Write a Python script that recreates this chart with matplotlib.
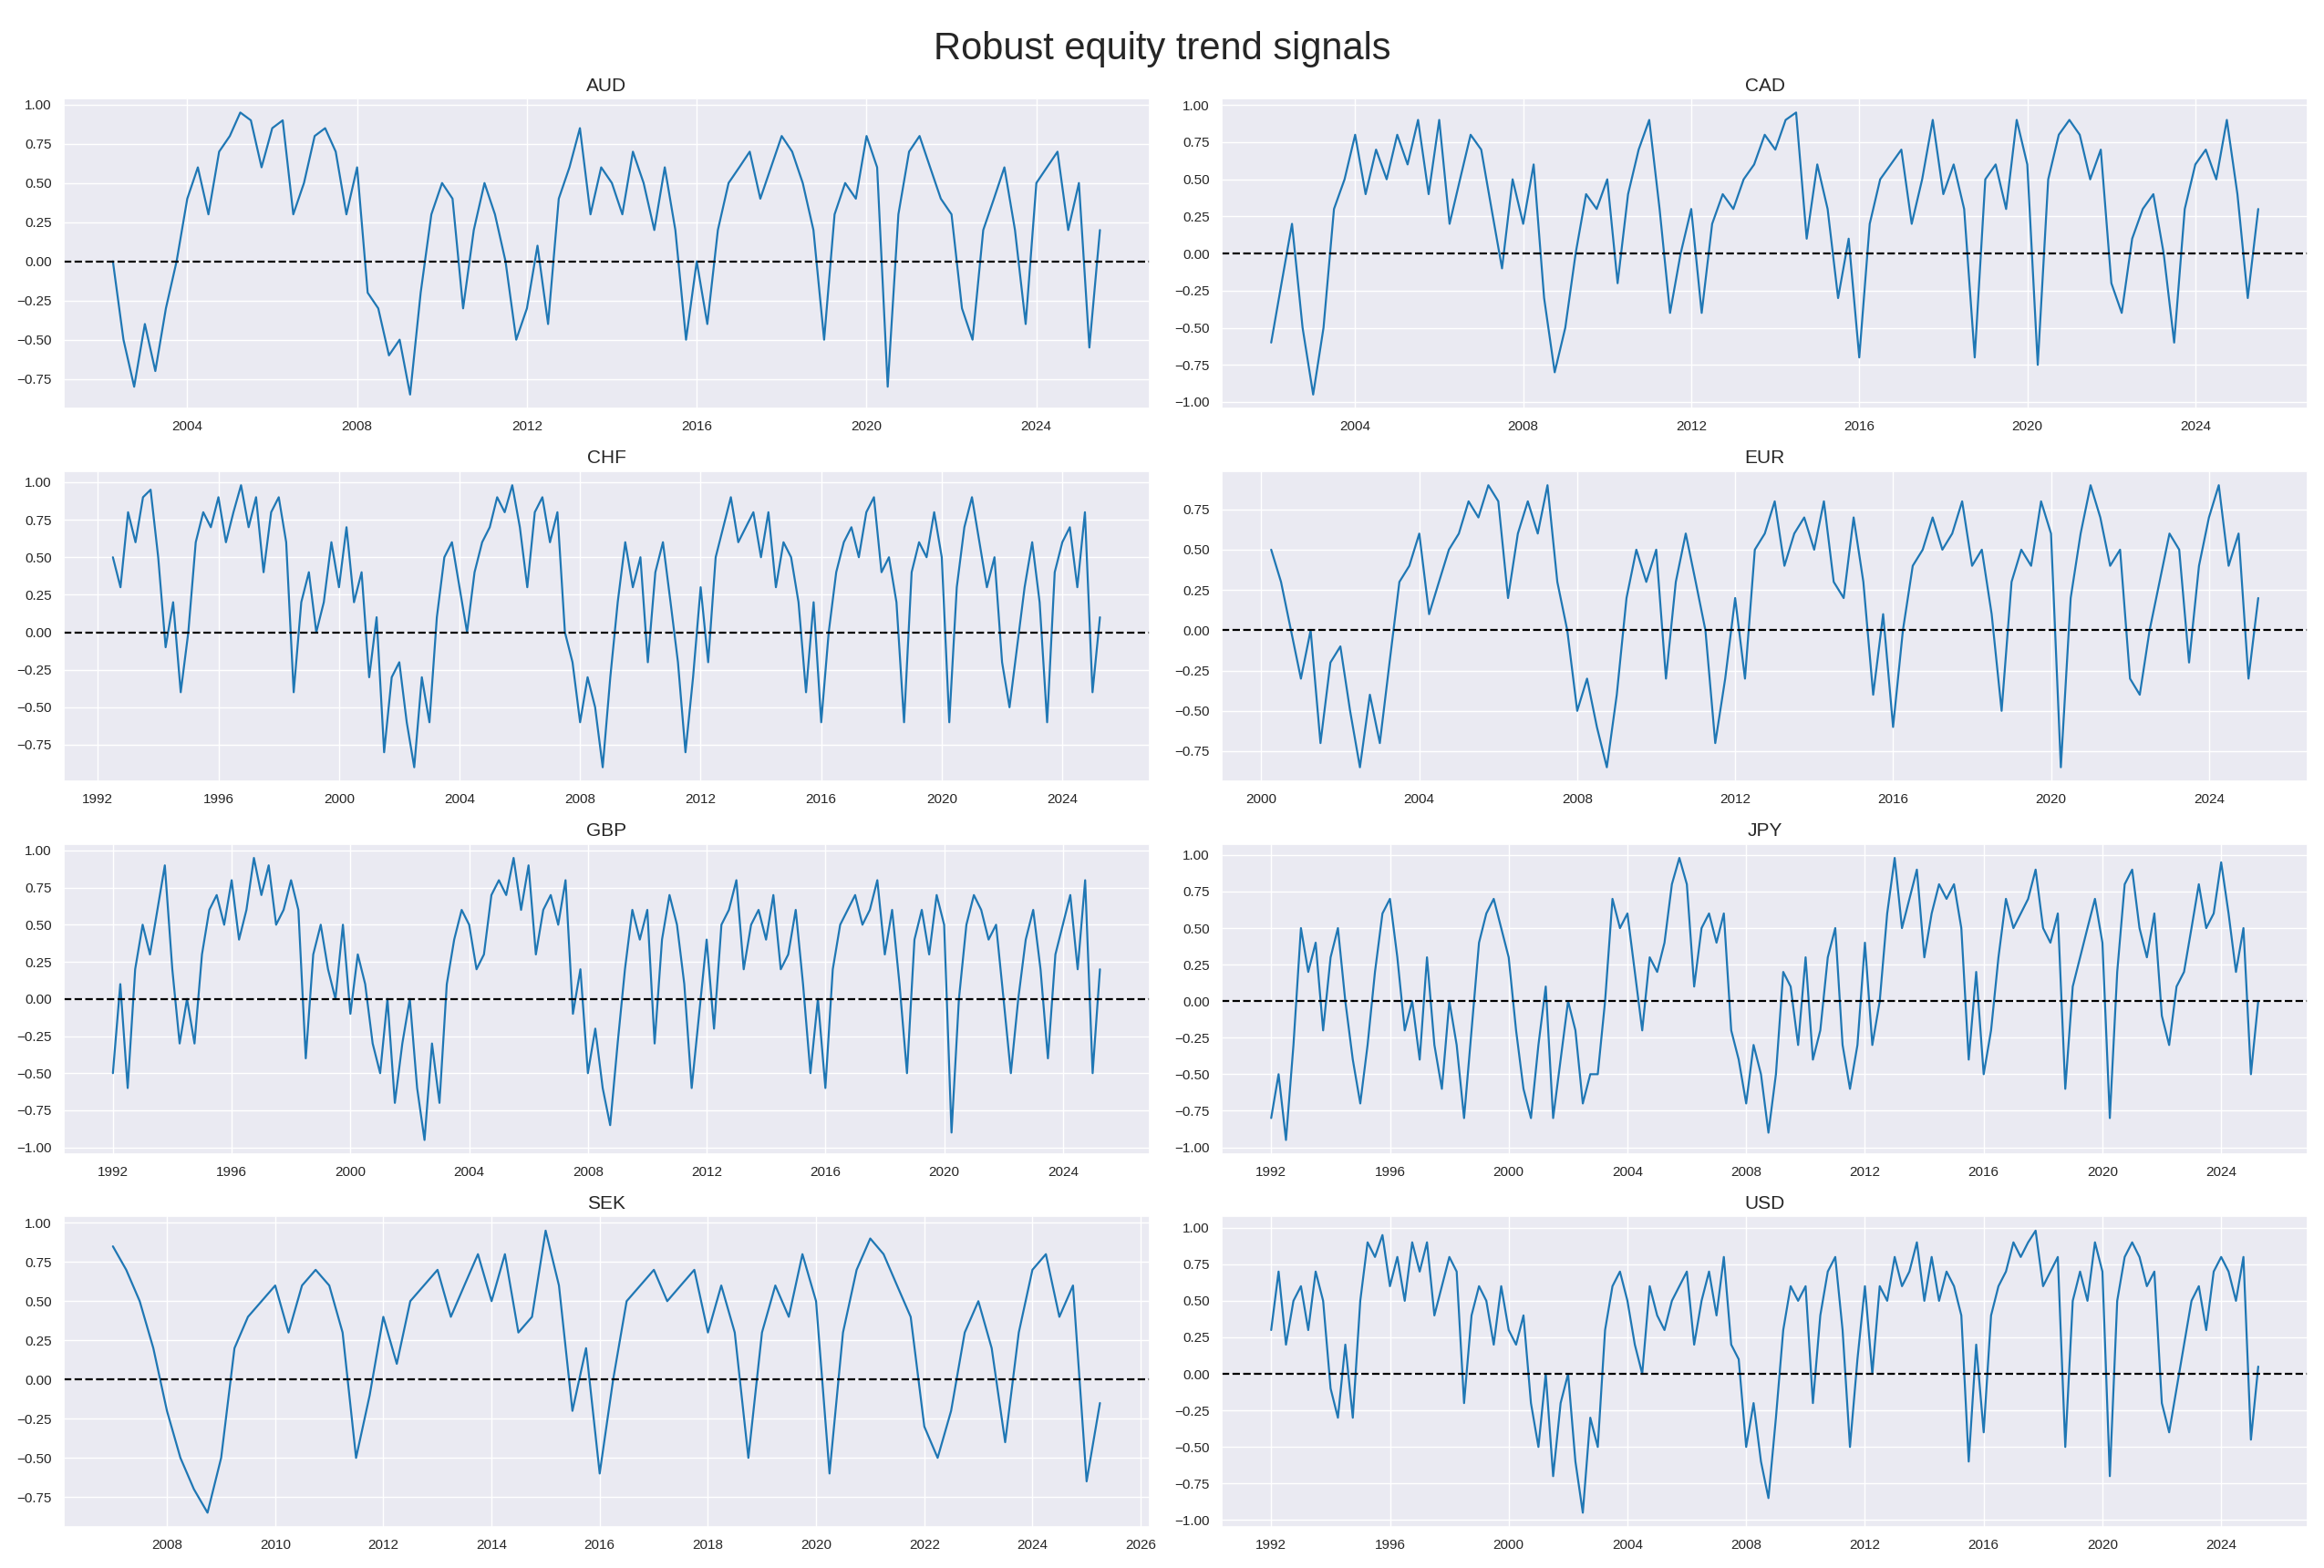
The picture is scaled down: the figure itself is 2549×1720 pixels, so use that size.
import matplotlib
matplotlib.use("Agg")
import matplotlib.pyplot as plt
import seaborn as sns
import pandas as pd

sns.set_theme(style="darkgrid", font="Liberation Sans")

starts = {"AUD": "2002-04-01", "CAD": "2002-01-01", "CHF": "1992-07-01", "EUR": "2000-04-01",
          "GBP": "1992-01-01", "JPY": "1992-01-01", "SEK": "2007-01-01", "USD": "1992-01-01"}

AUD = [0.0,-0.5,-0.8,-0.4, -0.7,-0.3,0.0,0.4, 0.6,0.3,0.7,0.8, 0.95,0.9,0.6,0.85, 0.9,0.3,0.5,0.8,
       0.85,0.7,0.3,0.6, -0.2,-0.3,-0.6,-0.5, -0.85,-0.2,0.3,0.5, 0.4,-0.3,0.2,0.5, 0.3,0.0,-0.5,-0.3,
       0.1,-0.4,0.4,0.6, 0.85,0.3,0.6,0.5, 0.3,0.7,0.5,0.2, 0.6,0.2,-0.5,0.0, -0.4,0.2,0.5,0.6,
       0.7,0.4,0.6,0.8, 0.7,0.5,0.2,-0.5, 0.3,0.5,0.4,0.8, 0.6,-0.8,0.3,0.7, 0.8,0.6,0.4,0.3,
       -0.3,-0.5,0.2,0.4, 0.6,0.2,-0.4,0.5, 0.6,0.7,0.2,0.5, -0.55,0.2]
CAD = [-0.6,-0.2,0.2,-0.5, -0.95,-0.5,0.3,0.5, 0.8,0.4,0.7,0.5, 0.8,0.6,0.9,0.4, 0.9,0.2,0.5,0.8,
       0.7,0.3,-0.1,0.5, 0.2,0.6,-0.3,-0.8, -0.5,0.0,0.4,0.3, 0.5,-0.2,0.4,0.7, 0.9,0.3,-0.4,0.0,
       0.3,-0.4,0.2,0.4, 0.3,0.5,0.6,0.8, 0.7,0.9,0.95,0.1, 0.6,0.3,-0.3,0.1, -0.7,0.2,0.5,0.6,
       0.7,0.2,0.5,0.9, 0.4,0.6,0.3,-0.7, 0.5,0.6,0.3,0.9, 0.6,-0.75,0.5,0.8, 0.9,0.8,0.5,0.7,
       -0.2,-0.4,0.1,0.3, 0.4,0.0,-0.6,0.3, 0.6,0.7,0.5,0.9, 0.4,-0.3,0.3]
CHF = [0.5,0.3, 0.8,0.6,0.9,0.95, 0.5,-0.1,0.2,-0.4, 0.0,0.6,0.8,0.7, 0.9,0.6,0.8,0.98,
       0.7,0.9,0.4,0.8, 0.9,0.6,-0.4,0.2, 0.4,0.0,0.2,0.6, 0.3,0.7,0.2,0.4, -0.3,0.1,-0.8,-0.3,
       -0.2,-0.6,-0.9,-0.3, -0.6,0.1,0.5,0.6, 0.3,0.0,0.4,0.6, 0.7,0.9,0.8,0.98, 0.7,0.3,0.8,0.9,
       0.6,0.8,0.0,-0.2, -0.6,-0.3,-0.5,-0.9, -0.3,0.2,0.6,0.3, 0.5,-0.2,0.4,0.6, 0.2,-0.2,-0.8,-0.3,
       0.3,-0.2,0.5,0.7, 0.9,0.6,0.7,0.8, 0.5,0.8,0.3,0.6, 0.5,0.2,-0.4,0.2, -0.6,0.0,0.4,0.6,
       0.7,0.5,0.8,0.9, 0.4,0.5,0.2,-0.6, 0.4,0.6,0.5,0.8, 0.5,-0.6,0.3,0.7, 0.9,0.6,0.3,0.5,
       -0.2,-0.5,-0.1,0.3, 0.6,0.2,-0.6,0.4, 0.6,0.7,0.3,0.8, -0.4,0.1]
EUR = [0.5,0.3,0.0, -0.3,0.0,-0.7,-0.2, -0.1,-0.5,-0.85,-0.4, -0.7,-0.2,0.3,0.4, 0.6,0.1,0.3,0.5,
       0.6,0.8,0.7,0.9, 0.8,0.2,0.6,0.8, 0.6,0.9,0.3,0.0, -0.5,-0.3,-0.6,-0.85, -0.4,0.2,0.5,0.3,
       0.5,-0.3,0.3,0.6, 0.3,0.0,-0.7,-0.3, 0.2,-0.3,0.5,0.6, 0.8,0.4,0.6,0.7, 0.5,0.8,0.3,0.2,
       0.7,0.3,-0.4,0.1, -0.6,0.0,0.4,0.5, 0.7,0.5,0.6,0.8, 0.4,0.5,0.1,-0.5, 0.3,0.5,0.4,0.8,
       0.6,-0.85,0.2,0.6, 0.9,0.7,0.4,0.5, -0.3,-0.4,0.0,0.3, 0.6,0.5,-0.2,0.4, 0.7,0.9,0.4,0.6, -0.3,0.2]
GBP = [-0.5,0.1,-0.6,0.2, 0.5,0.3,0.6,0.9, 0.2,-0.3,0.0,-0.3, 0.3,0.6,0.7,0.5, 0.8,0.4,0.6,0.95,
       0.7,0.9,0.5,0.6, 0.8,0.6,-0.4,0.3, 0.5,0.2,0.0,0.5, -0.1,0.3,0.1,-0.3, -0.5,0.0,-0.7,-0.3,
       0.0,-0.6,-0.95,-0.3, -0.7,0.1,0.4,0.6, 0.5,0.2,0.3,0.7, 0.8,0.7,0.95,0.6, 0.9,0.3,0.6,0.7,
       0.5,0.8,-0.1,0.2, -0.5,-0.2,-0.6,-0.85, -0.3,0.2,0.6,0.4, 0.6,-0.3,0.4,0.7, 0.5,0.1,-0.6,-0.1,
       0.4,-0.2,0.5,0.6, 0.8,0.2,0.5,0.6, 0.4,0.7,0.2,0.3, 0.6,0.1,-0.5,0.0, -0.6,0.2,0.5,0.6,
       0.7,0.5,0.6,0.8, 0.3,0.6,0.1,-0.5, 0.4,0.6,0.3,0.7, 0.5,-0.9,0.0,0.5, 0.7,0.6,0.4,0.5,
       0.0,-0.5,0.0,0.4, 0.6,0.2,-0.4,0.3, 0.5,0.7,0.2,0.8, -0.5,0.2]
JPY = [-0.8,-0.5,-0.95,-0.3, 0.5,0.2,0.4,-0.2, 0.3,0.5,0.0,-0.4, -0.7,-0.3,0.2,0.6, 0.7,0.3,-0.2,0.0,
       -0.4,0.3,-0.3,-0.6, 0.0,-0.3,-0.8,-0.2, 0.4,0.6,0.7,0.5, 0.3,-0.2,-0.6,-0.8, -0.3,0.1,-0.8,-0.4,
       0.0,-0.2,-0.7,-0.5, -0.5,0.0,0.7,0.5, 0.6,0.2,-0.2,0.3, 0.2,0.4,0.8,0.98, 0.8,0.1,0.5,0.6,
       0.4,0.6,-0.2,-0.4, -0.7,-0.3,-0.5,-0.9, -0.5,0.2,0.1,-0.3, 0.3,-0.4,-0.2,0.3, 0.5,-0.3,-0.6,-0.3,
       0.4,-0.3,0.0,0.6, 0.98,0.5,0.7,0.9, 0.3,0.6,0.8,0.7, 0.8,0.5,-0.4,0.2, -0.5,-0.2,0.3,0.7,
       0.5,0.6,0.7,0.9, 0.5,0.4,0.6,-0.6, 0.1,0.3,0.5,0.7, 0.4,-0.8,0.2,0.8, 0.9,0.5,0.3,0.6,
       -0.1,-0.3,0.1,0.2, 0.5,0.8,0.5,0.6, 0.95,0.6,0.2,0.5, -0.5,0.0]
SEK = [0.85,0.7,0.5,0.2, -0.2,-0.5,-0.7,-0.85, -0.5,0.2,0.4,0.5, 0.6,0.3,0.6,0.7, 0.6,0.3,-0.5,-0.1,
       0.4,0.1,0.5,0.6, 0.7,0.4,0.6,0.8, 0.5,0.8,0.3,0.4, 0.95,0.6,-0.2,0.2, -0.6,0.0,0.5,0.6,
       0.7,0.5,0.6,0.7, 0.3,0.6,0.3,-0.5, 0.3,0.6,0.4,0.8, 0.5,-0.6,0.3,0.7, 0.9,0.8,0.6,0.4,
       -0.3,-0.5,-0.2,0.3, 0.5,0.2,-0.4,0.3, 0.7,0.8,0.4,0.6, -0.65,-0.15]
USD = [0.3,0.7,0.2,0.5, 0.6,0.3,0.7,0.5, -0.1,-0.3,0.2,-0.3, 0.5,0.9,0.8,0.95, 0.6,0.8,0.5,0.9,
       0.7,0.9,0.4,0.6, 0.8,0.7,-0.2,0.4, 0.6,0.5,0.2,0.6, 0.3,0.2,0.4,-0.2, -0.5,0.0,-0.7,-0.2,
       0.0,-0.6,-0.95,-0.3, -0.5,0.3,0.6,0.7, 0.5,0.2,0.0,0.6, 0.4,0.3,0.5,0.6, 0.7,0.2,0.5,0.7,
       0.4,0.8,0.2,0.1, -0.5,-0.2,-0.6,-0.85, -0.3,0.3,0.6,0.5, 0.6,-0.2,0.4,0.7, 0.8,0.3,-0.5,0.1,
       0.6,0.0,0.6,0.5, 0.8,0.6,0.7,0.9, 0.5,0.8,0.5,0.7, 0.6,0.4,-0.6,0.2, -0.4,0.4,0.6,0.7,
       0.9,0.8,0.9,0.98, 0.6,0.7,0.8,-0.5, 0.5,0.7,0.5,0.9, 0.7,-0.7,0.5,0.8, 0.9,0.8,0.6,0.7,
       -0.2,-0.4,-0.1,0.2, 0.5,0.6,0.3,0.7, 0.8,0.7,0.5,0.8, -0.45,0.05]

series = {"AUD": AUD, "CAD": CAD, "CHF": CHF, "EUR": EUR, "GBP": GBP, "JPY": JPY, "SEK": SEK, "USD": USD}

fig, axes = plt.subplots(4, 2, figsize=(25.49, 17.2), dpi=100)
for ax, (name, vals) in zip(axes.flat, series.items()):
    dates = pd.date_range(starts[name], periods=len(vals), freq="QS")
    ax.plot(dates, vals, color="#1f77b4", lw=1.6)
    ax.axhline(0, color="black", ls="--", lw=1.6)
    ax.set_title(name, fontsize=15)
    ax.tick_params(labelsize=11)
fig.suptitle("Robust equity trend signals", fontsize=30)
fig.tight_layout(rect=[0, 0, 1, 0.995])
fig.savefig("out.png", dpi=100)
